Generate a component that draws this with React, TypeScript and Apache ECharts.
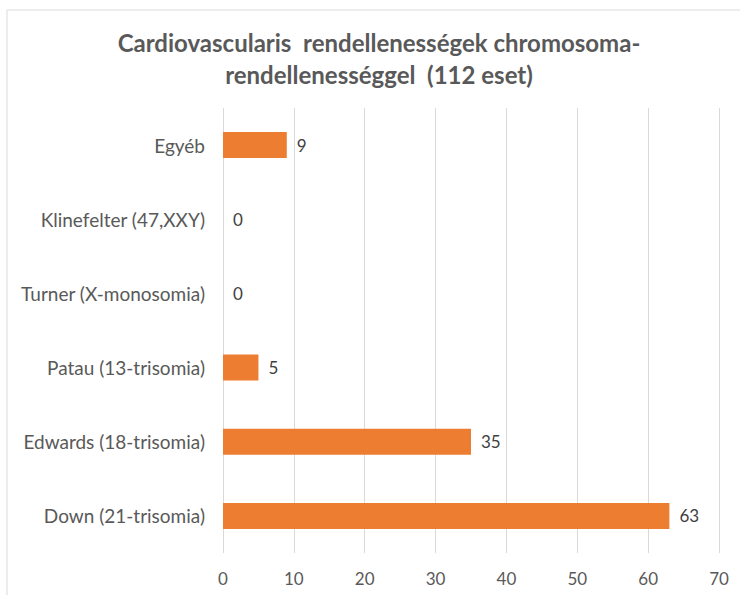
import React, { useEffect, useRef } from "react";
import * as echarts from "echarts";

const categories = [
  "Down (21-trisomia)",
  "Edwards (18-trisomia)",
  "Patau (13-trisomia)",
  "Turner (X-monosomia)",
  "Klinefelter (47,XXY)",
  "Egyéb",
];
const values = [63, 35, 5, 0, 0, 9];
const titleLines = [
  "Cardiovascularis  rendellenességek chromosoma-",
  "rendellenességgel  (112 eset)",
];

export default function App() {
  const ref = useRef<HTMLDivElement>(null);
  useEffect(() => {
    if (!ref.current) return;
    const chart = echarts.init(ref.current, null, { renderer: "svg" });
    const font = "Lato, 'Open Sans', sans-serif";
    chart.setOption({
      animation: false,
      backgroundColor: "#ffffff",
      title: {
        text: titleLines.join("\n"),
        left: 374,
        textAlign: "center",
        top: 21,
        textStyle: {
          fontFamily: font,
          fontSize: 24,
          fontWeight: "bold",
          color: "#595959",
          lineHeight: 32,
        },
      },
      graphic: [
        {
          type: "rect",
          shape: { x: 7, y: 10, width: 760, height: 620 },
          style: { fill: "none", stroke: "#d9d9d9", lineWidth: 1 },
          silent: true,
        },
      ],
      grid: { left: 223, right: 21, top: 108, bottom: 42, containLabel: false },
      xAxis: {
        type: "value",
        min: 0,
        max: 70,
        interval: 10,
        axisLine: { show: false },
        axisTick: { show: false },
        splitLine: { show: true, lineStyle: { color: "#d9d9d9", width: 1 } },
        axisLabel: {
          fontFamily: font,
          fontSize: 17,
          color: "#595959",
          margin: 17,
        },
      },
      yAxis: {
        type: "category",
        data: categories,
        axisLine: { show: false },
        axisTick: { show: false },
        splitLine: { show: false },
        axisLabel: {
          fontFamily: font,
          fontSize: 19,
          color: "#595959",
          margin: 18,
        },
      },
      series: [
        {
          type: "bar",
          data: values,
          barWidth: 26,
          itemStyle: { color: "#ED7D31" },
          label: {
            show: true,
            position: "right",
            distance: 10,
            fontFamily: font,
            fontSize: 17,
            color: "#404040",
          },
        },
      ],
    });
    return () => chart.dispose();
  }, []);
  return (
    <div
      ref={ref}
      style={{ position: "fixed", left: 0, top: 0, width: 740, height: 595 }}
    />
  );
}
